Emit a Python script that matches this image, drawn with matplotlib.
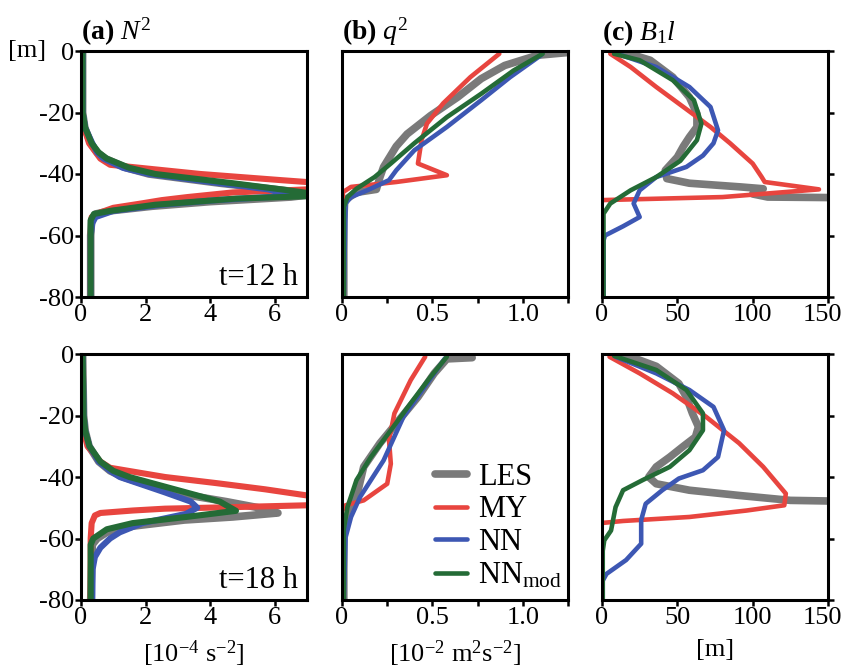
import numpy as np
from matplotlib import pyplot as plt

plt.rcParams['font.family'] = ['Liberation Serif', 'DejaVu Serif']
plt.rcParams['mathtext.fontset'] = 'custom'
plt.rcParams['mathtext.rm'] = 'Liberation Serif'
plt.rcParams['mathtext.it'] = 'Liberation Serif:italic'
plt.rcParams['mathtext.bf'] = 'Liberation Serif:bold'
plt.rcParams['axes.unicode_minus'] = False

# ---- (a) N^2 [1e-4 s^-2], t = 12 h
n2_12_les_z = [0, -20, -25, -30, -33, -35, -38, -40, -43, -45, -46.5, -47.5, -49, -50.5, -52, -53, -55, -60, -80]
n2_12_les = [0.05, 0.05, 0.12, 0.3, 0.5, 0.75, 1.4, 2.1, 4.3, 6.0, 7.3, 6.5, 4.0, 2.2, 0.9, 0.45, 0.33, 0.3, 0.3]
n2_12_my_z = [0, -20, -25, -30, -35, -37, -40, -42, -43, -44, -45, -46, -47.5, -48.5, -49.7, -51, -52.5, -54, -60, -80]
n2_12_my = [0.02, 0.03, 0.1, 0.25, 0.6, 0.9, 3.7, 6.2, 7.5, 9.0, 7.0, 4.7, 3.3, 2.5, 1.8, 1.0, 0.6, 0.33, 0.3, 0.3]
n2_12_nn_z = [0, -20, -25, -30, -33, -35, -38, -40, -43, -45, -47, -48.5, -50, -52, -54, -56, -60, -80]
n2_12_nn = [0.05, 0.05, 0.13, 0.35, 0.5, 0.7, 1.3, 2.1, 4.3, 5.8, 6.6, 4.2, 2.5, 1.0, 0.45, 0.35, 0.3, 0.3]
n2_12_mod_z = [0, -20, -25, -30, -33, -35, -38, -40, -43, -45, -47, -48, -50, -52, -53, -55, -60, -80]
n2_12_mod = [0.05, 0.05, 0.13, 0.33, 0.55, 0.8, 1.5, 2.3, 4.7, 6.2, 7.6, 4.8, 2.3, 0.9, 0.4, 0.3, 0.3, 0.3]

# ---- (a) N^2, t = 18 h
n2_18_les_z = [0, -20, -25, -30, -35, -38, -40, -45, -48, -50, -51.7, -53, -54, -56, -58, -60, -62, -80]
n2_18_les = [0.05, 0.08, 0.13, 0.25, 0.55, 0.9, 1.3, 2.8, 4.5, 5.5, 6.1, 4.7, 3.2, 1.6, 0.8, 0.5, 0.35, 0.3]
n2_18_my_z = [0, -20, -25, -30, -35, -37, -40, -42, -44, -46, -47.5, -49.2, -49.8, -50.3, -50.9, -51.7, -52.5, -55, -60, -80]
n2_18_my = [0.02, 0.03, 0.08, 0.2, 0.6, 0.9, 2.6, 4.2, 5.7, 7.0, 9.5, 7.0, 4.7, 2.6, 1.6, 0.6, 0.43, 0.33, 0.3, 0.3]
n2_18_nn_z = [0, -20, -25, -30, -35, -38, -40, -45, -48, -50, -52, -55, -58, -60, -63, -66, -70, -80]
n2_18_nn = [0.05, 0.08, 0.13, 0.26, 0.55, 0.9, 1.2, 2.6, 3.4, 3.6, 3.25, 1.9, 1.2, 0.9, 0.6, 0.43, 0.36, 0.35]
n2_18_mod_z = [0, -20, -25, -30, -35, -38, -40, -45, -48, -51, -53, -55, -57, -60, -62, -80]
n2_18_mod = [0.05, 0.08, 0.13, 0.26, 0.6, 1.0, 1.5, 3.25, 4.3, 4.8, 3.25, 1.6, 0.8, 0.38, 0.3, 0.3]

# ---- (b) q^2 [1e-2 m^2 s^-2], t = 12 h
q2_12_les_z = [-0.5, -1.4, -4.7, -9, -15, -21, -27, -31, -37.7, -41, -45, -46, -48.5, -55, -80]
q2_12_les = [1.25, 1.08, 0.9, 0.77, 0.64, 0.49, 0.36, 0.3, 0.23, 0.21, 0.19, 0.08, 0.015, 0.01, 0.01]
q2_12_my_z = [-0.9, -8.5, -17, -23.6, -29, -36.6, -40.4, -42.6, -44.2, -45.9, -80]
q2_12_my = [0.87, 0.71, 0.56, 0.47, 0.44, 0.42, 0.58, 0.3, 0.05, 0.005, 0.005]
q2_12_nn_z = [-1.4, -8.5, -16, -24.7, -32.3, -38.8, -42, -45.3, -47.5, -49.6, -80]
q2_12_nn = [1.1, 0.93, 0.77, 0.58, 0.4, 0.3, 0.26, 0.14, 0.05, 0.02, 0.01]
q2_12_mod_z = [-0.9, -6.3, -13.9, -21.5, -30, -36.6, -41, -44.8, -47.5, -50.7, -80]
q2_12_mod = [1.11, 0.95, 0.77, 0.58, 0.4, 0.27, 0.18, 0.08, 0.03, 0.01, 0.01]

# ---- (b) q^2, t = 18 h
q2_18_les_z = [-1.2, -1.6, -6.3, -14, -22.6, -29, -36.7, -46.5, -51, -55, -80]
q2_18_les = [0.72, 0.58, 0.51, 0.42, 0.3, 0.21, 0.12, 0.08, 0.05, 0.01, 0.01]
q2_18_my_z = [-0.9, -8.5, -19.3, -28, -35.7, -42.2, -47.6, -49.2, -51, -80]
q2_18_my = [0.46, 0.38, 0.29, 0.26, 0.27, 0.25, 0.12, 0.02, 0.0, 0.0]
q2_18_nn_z = [-1.4, -9.6, -20.4, -34.6, -41, -46.5, -53, -59.6, -80]
q2_18_nn = [0.57, 0.47, 0.34, 0.23, 0.16, 0.1, 0.05, 0.02, 0.01]
q2_18_mod_z = [-0.9, -7.4, -16, -24.8, -33.5, -41, -49.8, -57, -80]
q2_18_mod = [0.58, 0.49, 0.38, 0.27, 0.16, 0.08, 0.03, 0.01, 0.01]

# ---- (c) B1 l [m], t = 12 h
bl_12_les_z = [0, -3, -8.5, -15, -20.4, -24.7, -28, -31, -34.5, -38.8, -41.5, -43, -44.2, -44.8, -46.5, -47.5, -47.7]
bl_12_les = [12, 32, 47, 58, 63, 63, 58, 54, 50, 42, 43, 58, 92, 107, 100, 110, 160]
bl_12_my_z = [-0.9, -5.2, -11.7, -18.2, -24.7, -30, -36.6, -41, -42.6, -45, -47.5, -48.5, -80]
bl_12_my = [5.5, 19, 36, 54, 72, 85, 100, 106, 108, 144, 80, -1, -1]
bl_12_nn_z = [-0.9, -5.2, -11.7, -18.2, -25.8, -30, -34, -37.7, -41, -45.3, -49.6, -54, -57, -60, -61.6, -80]
bl_12_nn = [10, 36, 58, 72, 77, 74, 67, 56, 36, 25, 21, 25, 14, 2, 1, 1]
bl_12_mod_z = [-0.9, -3, -9.5, -16, -23.6, -29, -35.7, -41, -45.3, -49.6, -52.9, -80]
bl_12_mod = [8, 25, 47, 61, 66, 63, 52, 36, 19, 5.5, 1, 1]

# ---- (c) B1 l, t = 18 h
bl_18_les_z = [0, -4, -9.6, -14, -19.3, -23.7, -27, -30, -33.5, -36.7, -40, -42.2, -44.3, -46, -47.6, -47.8, -48]
bl_18_les = [14, 36, 51, 56, 60, 64, 62, 54, 45, 36, 31, 36, 58, 91, 125, 150, 160]
bl_18_my_z = [-0.9, -6.3, -12.8, -20.4, -29, -36.7, -45.4, -49.2, -50.9, -53, -54.3, -55, -80]
bl_18_my = [5, 25, 47, 69, 91, 107, 122, 121, 96, 58, 14, -1, -1]
bl_18_nn_z = [-0.9, -6.3, -11.7, -17.2, -24.8, -33.5, -37.8, -40.5, -44.3, -48.7, -54, -61.7, -67, -71.5, -73.7, -80]
bl_18_nn = [9, 36, 58, 74, 81, 77, 67, 51, 40, 29, 26, 26, 16, 3, 0.5, 0.5]
bl_18_mod_z = [-0.6, -5.2, -11.7, -19.3, -24.8, -31.3, -36.7, -41, -44.3, -49.8, -57.4, -60.6, -64, -80]
bl_18_mod = [8, 36, 56, 67, 67, 58, 45, 27, 14, 9, 6, 1.5, 0.5, 0.5]

labels = ['LES', 'MY', 'NN', r'NN$_{\mathrm{mod}}$']
colors = ['#7a7a7a', '#e8453f', '#3d57b3', '#246b36']

panels = [
  [(n2_12_les_z, n2_12_les), (n2_12_my_z, n2_12_my), (n2_12_nn_z, n2_12_nn), (n2_12_mod_z, n2_12_mod)],
  [(q2_12_les_z, q2_12_les), (q2_12_my_z, q2_12_my), (q2_12_nn_z, q2_12_nn), (q2_12_mod_z, q2_12_mod)],
  [(bl_12_les_z, bl_12_les), (bl_12_my_z, bl_12_my), (bl_12_nn_z, bl_12_nn), (bl_12_mod_z, bl_12_mod)],
  [(n2_18_les_z, n2_18_les), (n2_18_my_z, n2_18_my), (n2_18_nn_z, n2_18_nn), (n2_18_mod_z, n2_18_mod)],
  [(q2_18_les_z, q2_18_les), (q2_18_my_z, q2_18_my), (q2_18_nn_z, q2_18_nn), (q2_18_mod_z, q2_18_mod)],
  [(bl_18_les_z, bl_18_les), (bl_18_my_z, bl_18_my), (bl_18_nn_z, bl_18_nn), (bl_18_mod_z, bl_18_mod)],
]

titles = [r'$\mathbf{(a)}\ N^{2}$', r'$\mathbf{(b)}\ q^{2}$', r'$\mathbf{(c)}\ B_{1}l$']
xlims = [7, 1.25, 150]
xticks = [[0, 2, 4, 6], [0, 0.25, 0.5, 0.75, 1.0, 1.25], [0, 50, 100, 150]]
# the last label of (c) is drawn by hand, nudged left so it stays inside the figure
xticklabels = [['0', '2', '4', '6'], ['0', '', '0.5', '', '1.0', ''], ['0', '50', '100', '']]
xlabels = [r'[10$^{-4}$ s$^{-2}$]', r'[10$^{-2}$ m$^{2}$s$^{-2}$]', '[m]']
times = ['t=12 h', 't=18 h']

fig = plt.figure(figsize = (8.41, 6.72), dpi = 100)
lefts = [81 / 841, 342 / 841, 602 / 841]
bottoms = [1 - 297 / 672, 1 - 600 / 672]
w = 226 / 841
h = 246 / 672

fs = 19
for row in range(2):
  for col in range(3):
    ax = fig.add_axes([lefts[col], bottoms[row], w, h])
    lw_col = 4.4 if col == 0 else 3.3
    for k, (z, v) in enumerate(panels[row * 3 + col]):
      lw = 5.5 if k == 0 else lw_col
      ax.plot(v, z, color = colors[k], lw = lw, label = labels[k],
              solid_capstyle = 'round', zorder = 2 + k)
    ax.set_xlim(0, xlims[col])
    ax.set_ylim(-80, 0)
    ax.set_xticks(xticks[col], labels = xticklabels[col])
    for s in ax.spines.values():
      s.set_linewidth(2.2)
      s.set_zorder(10)
    ax.tick_params(axis = 'both', direction = 'out', length = 4, width = 1.8,
                   labelsize = fs, pad = 1)
    if col == 0:
      ax.set_yticks([0, -20, -40, -60, -80])
      ax.text(0.96, 0.02, times[row], transform = ax.transAxes, ha = 'right',
              va = 'bottom', fontsize = 22, zorder = 20)
    elif col == 1:
      ax.set_yticks([])
    else:
      ax.set_yticks([0, -20, -40, -60, -80])
      ax.yaxis.tick_right()
      ax.tick_params(axis = 'y', labelright = False)
      ax.annotate(str(xticks[col][-1]), xy = (xticks[col][-1], 0),
                  xycoords = ax.get_xaxis_transform(), xytext = (-4, -5),
                  textcoords = 'offset points', ha = 'center', va = 'top',
                  fontsize = fs, annotation_clip = False)
    if row == 0:
      ax.set_title(titles[col], loc = 'left', fontsize = 20, pad = 8)
    else:
      ax.set_xlabel(xlabels[col], fontsize = fs, labelpad = 7)
    if row == 1 and col == 1:
      ax.legend(loc = 'lower left', bbox_to_anchor = (0.33, -0.035), frameon = False,
                fontsize = 22, handlelength = 1.05, handletextpad = 0.35,
                labelspacing = 0.12, borderaxespad = 0.2)

fig.text(8 / 841, 1 - 51 / 672, '[m]', fontsize = fs, ha = 'left', va = 'center')

plt.savefig('out.png', dpi = 100)
